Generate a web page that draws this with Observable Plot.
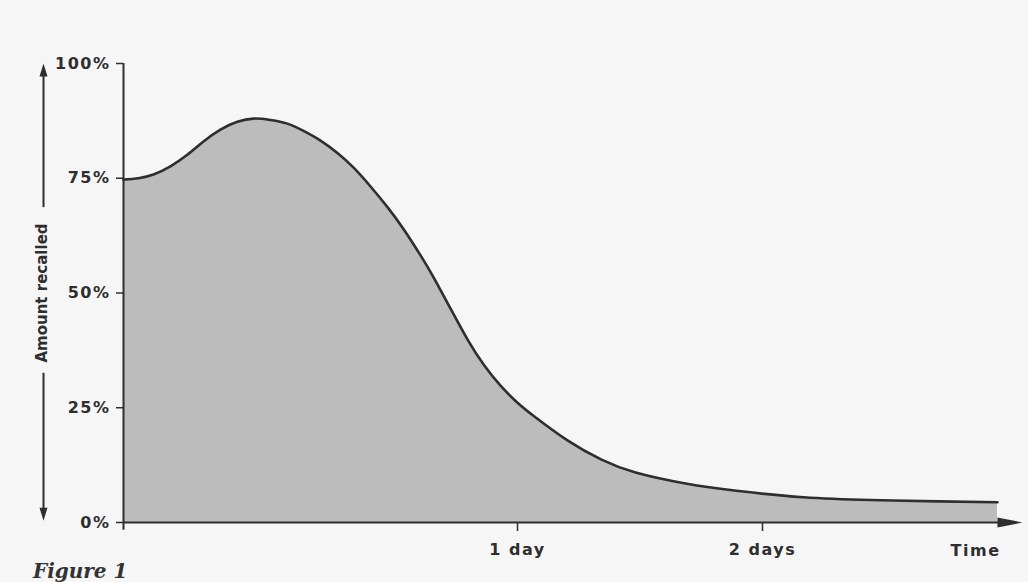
<!DOCTYPE html>
<html>
<head>
<meta charset="utf-8">
<script src="https://cdn.jsdelivr.net/npm/d3@7"></script>
<script src="https://cdn.jsdelivr.net/npm/@observablehq/plot@0.6"></script>
<style>
  html, body { margin: 0; padding: 0; background: #f6f6f6; }
  #chart svg { display: block; }
  #chart svg g[aria-label$="tick label"] text, #chart svg .spaced text { letter-spacing: 1.5px; }
  #caption {
    font-family: "DejaVu Serif", serif;
    font-style: italic;
    font-weight: bold;
    font-size: 20px;
    line-height: 22px;
    color: #333;
    padding-left: 33px;
    height: 22px;
  }
</style>
</head>
<body>
<div id="chart"></div>
<div id="caption">Figure 1</div>
<script>
// Time axis (days) and amount recalled (%)
const days = [0, 0.038, 0.076, 0.119, 0.162, 0.203, 0.246, 0.289, 0.330, 0.373, 0.416, 0.457, 0.500, 0.543, 0.584, 0.627, 0.670, 0.711, 0.754, 0.787, 0.830, 0.873, 0.914, 0.957, 1.0, 1.069, 1.204, 1.343, 1.482, 1.686, 1.894, 2.167, 2.441, 2.718, 2.959];
const recalled = [74.7, 75.0, 75.8, 77.6, 80.1, 83.0, 85.6, 87.3, 88.0, 87.7, 86.9, 85.3, 83.2, 80.5, 77.3, 73.2, 68.7, 63.9, 58.2, 53.4, 46.6, 39.9, 34.4, 29.8, 26.1, 23.1, 17.9, 13.7, 10.9, 8.5, 6.9, 5.5, 4.9, 4.6, 4.4];

const xTickValues = [1, 2];
const xTickLabels = ["1 day", "2 days"];
const yTickValues = [0, 25, 50, 75, 100];
const xAxisLabel = "Time";
const yAxisLabel = "Amount recalled";

// axis extents (data units)
const xAxisEnd = 3.0;        // end of x-axis line, arrow tip beyond
const xArrowTip = 3.061;
const yAxisBottom = -1.7;
const yArrowUp = [68.6, 100];  // up arrow beside the y label
const yArrowDown = [32.5, 0.4]; // down arrow beside the y label

const data = days.map((d, i) => ({day: d, pct: recalled[i]}));

const ink = "#2e2e2e";
const upSym = {draw(c) { c.moveTo(0, 0); c.lineTo(4, 13); c.lineTo(-4, 13); c.closePath(); }};
const downSym = {draw(c) { c.moveTo(0, 0); c.lineTo(4, -13); c.lineTo(-4, -13); c.closePath(); }};
const rightSym = {draw(c) { c.moveTo(0, 0); c.lineTo(-25, 5); c.lineTo(-25, -5); c.closePath(); }};

const chart = Plot.plot({
  width: 1028,
  height: 560,
  marginLeft: 123,
  marginRight: 28,
  marginTop: 63,
  marginBottom: 38,
  style: {fontFamily: "DejaVu Sans, sans-serif", background: "transparent", color: ink},
  x: {type: "linear", domain: [0, 1, 2, 3], range: [123, 517, 762, 1007]},
  y: {domain: [0, 100]},
  marks: [
    Plot.areaY(data, {x: "day", y: "pct", fill: "#bcbcbc", curve: "natural"}),
    Plot.line(data, {x: "day", y: "pct", stroke: ink, strokeWidth: 2.6, curve: "natural"}),
    // axes lines
    Plot.ruleY([0], {x1: 0, x2: xAxisEnd, stroke: ink, strokeWidth: 2}),
    Plot.dot([xArrowTip], {x: d => d, y: 0, symbol: rightSym, r: 5, fill: ink, stroke: "none"}),
    Plot.ruleX([0], {y1: yAxisBottom, y2: 100, stroke: ink, strokeWidth: 2}),
    Plot.axisY({ticks: yTickValues, tickFormat: d => d + "%", tickSize: 7, tickPadding: 6, label: null,
      fontSize: 16, fontWeight: "bold", stroke: ink, strokeWidth: 1.5}),
    Plot.axisX({ticks: xTickValues, tickFormat: (d, i) => xTickLabels[i], tickSize: 9, tickPadding: 12, label: null,
      fontSize: 16, fontWeight: "bold", stroke: ink, strokeWidth: 1.5}),
    Plot.text([xAxisLabel], {frameAnchor: "bottom-right", dy: 28, textAnchor: "end", lineAnchor: "middle", fontSize: 16, fontWeight: "bold", fill: ink, className: "spaced"}),
    // y label with arrows
    Plot.text([yAxisLabel], {frameAnchor: "left", dx: -81, rotate: -90, textAnchor: "middle", lineAnchor: "middle", fontSize: 15, fontWeight: "bold", fill: ink}),
    Plot.ruleX([0], {y1: yArrowUp[0], y2: yArrowUp[1] - 2, dx: -80, stroke: ink, strokeWidth: 2}),
    Plot.dot([yArrowUp[1]], {x: 0, y: d => d, dx: -80, symbol: upSym, r: 5, fill: ink, stroke: "none"}),
    Plot.ruleX([0], {y1: yArrowDown[0], y2: yArrowDown[1] + 2, dx: -80, stroke: ink, strokeWidth: 2}),
    Plot.dot([yArrowDown[1]], {x: 0, y: d => d, dx: -80, symbol: downSym, r: 5, fill: ink, stroke: "none"})
  ]
});
document.getElementById("chart").appendChild(chart);
</script>
</body>
</html>
